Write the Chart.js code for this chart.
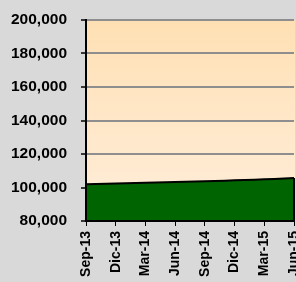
<!DOCTYPE html>
<html><head><meta charset="utf-8">
<script src="https://cdn.jsdelivr.net/npm/chart.js@4/dist/chart.umd.min.js"></script>
<style>html,body{margin:0;padding:0;background:#d9d9d9;}canvas{display:block;}</style>
</head><body>
<canvas id="c" width="296" height="282"></canvas>
<script>
const months = ["Sep-13","Oct-13","Nov-13","Dic-13","Ene-14","Feb-14","Mar-14","Abr-14","May-14","Jun-14","Jul-14","Ago-14","Sep-14","Oct-14","Nov-14","Dic-14","Ene-15","Feb-15","Mar-15","Abr-15","May-15","Jun-15"];
const values = [101900,102100,102200,102400,102500,102700,102800,103000,103100,103300,103400,103600,103800,103900,104100,104300,104500,104700,104900,105100,105300,105600];
const yMin = 80000, yMax = 200000, yStep = 20000;

const bgPlugin = {
  id: 'bg',
  beforeDraw(chart) {
    const {ctx, chartArea: a} = chart;
    ctx.save();
    ctx.fillStyle = '#d9d9d9';
    ctx.fillRect(0, 0, chart.width, chart.height);
    const g = ctx.createLinearGradient(0, a.top, 0, a.bottom);
    g.addColorStop(0, '#ffe0b4');
    g.addColorStop(1, '#ffeedb');
    ctx.fillStyle = g;
    ctx.fillRect(a.left, a.top, a.right - a.left + 1, a.bottom - a.top);
    ctx.restore();
  },
  afterDatasetsDraw(chart) {
    const {ctx, chartArea: a} = chart;
    const xs = chart.scales.x, ys = chart.scales.y;
    const last = values.length - 1;
    const xr = xs.getPixelForValue(last);
    const yr = ys.getPixelForValue(values[last]);
    ctx.save();
    ctx.strokeStyle = '#000';
    ctx.lineWidth = 2;
    ctx.beginPath();
    ctx.moveTo(xr, yr);
    ctx.lineTo(xr, a.bottom);
    ctx.moveTo(a.left, a.top);
    ctx.lineTo(a.left, a.bottom);
    ctx.moveTo(a.left, a.bottom);
    ctx.lineTo(xr, a.bottom);
    ctx.stroke();
    ctx.restore();
  }
};

new Chart(document.getElementById('c'), {
  type: 'line',
  data: {
    labels: months,
    datasets: [{
      data: values,
      fill: 'start',
      backgroundColor: '#006400',
      borderColor: '#000',
      borderWidth: 2,
      pointRadius: 0,
      tension: 0
    }]
  },
  options: {
    responsive: false,
    animation: false,
    devicePixelRatio: 1,
    layout: { padding: { top: 20, right: 2, left: 0, bottom: 0 } },
    plugins: { legend: { display: false }, tooltip: { enabled: false } },
    scales: {
      x: {
        offset: false,
        grid: {
          drawOnChartArea: false,
          drawTicks: true,
          tickLength: 5,
          lineWidth: 1,
          color: (c) => (c.index % 3 === 0 ? '#000' : 'rgba(0,0,0,0)')
        },
        border: { display: true, color: '#000', width: 2 },
        ticks: {
          autoSkip: false,
          maxRotation: 90,
          minRotation: 90,
          padding: 5,
          color: '#000',
          font: { family: 'Liberation Sans, Arial, sans-serif', size: 14, weight: 'bold' },
          callback: (v, i) => (i % 3 === 0 ? months[i] : '')
        },
        afterFit(s) { s.height = 61; s.paddingLeft = 0; s.paddingRight = 0; }
      },
      y: {
        min: yMin, max: yMax,
        grid: {
          color: (c) => (c.index === 0 ? 'rgba(0,0,0,0)' : '#8e8e8e'),
          lineWidth: 2,
          tickLength: 5,
          tickColor: '#000',
          tickWidth: 1.5
        },
        border: { display: true, color: '#000', width: 2 },
        ticks: {
          stepSize: yStep,
          padding: 14,
          color: '#000',
          font: { family: 'Liberation Sans, Arial, sans-serif', size: 15.5, weight: 'bold' },
          callback: (v) => v.toLocaleString('en-US')
        },
        afterFit(s) { s.width = 86; s.paddingTop = 0; s.paddingBottom = 0; }
      }
    }
  },
  plugins: [bgPlugin]
});
</script>
</body></html>
